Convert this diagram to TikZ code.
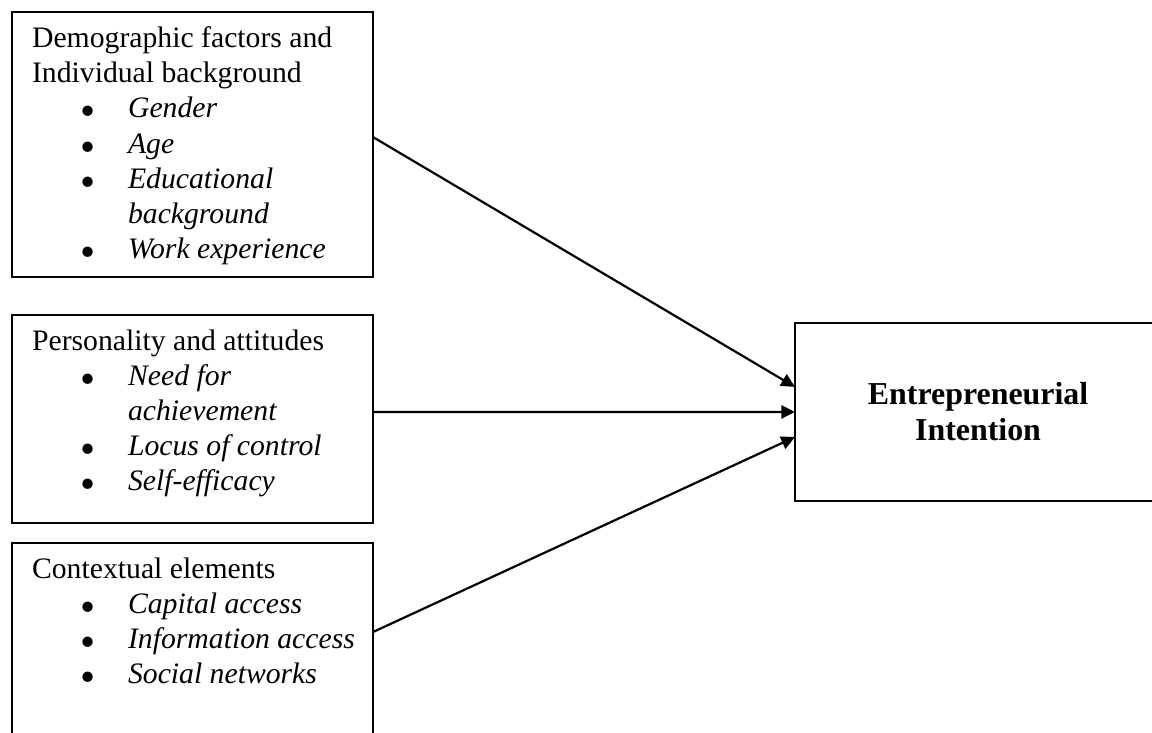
\documentclass[tikz,border=0pt]{standalone}
\usepackage{fontspec}
\setmainfont{Liberation Serif}
\usetikzlibrary{arrows.meta,calc}

\newcommand{\bitem}[1]{\hspace*{17.5pt}\makebox[17.4pt][l]{\raisebox{-2.9pt}[0pt][0pt]{\scalebox{1.45}{\textbullet}}}\mbox{\textit{#1}}}
\newcommand{\bcont}[1]{\hspace*{34.9pt}\mbox{\textit{#1}}}
\newcommand{\factortext}[2]{\parbox[c][#1][t]{116.7pt}{\raggedright #2}}

\begin{document}
\begin{tikzpicture}[
  x=0.3636pt, y=-0.3636pt,
  font=\fontsize{10.8}{12.8}\selectfont,
  factor/.style={
    draw,
    line width=0.8pt,
    anchor=north west,
    inner xsep=7.3pt,
    inner ysep=5.3pt,
    outer sep=0pt
  },
  outcome/.style={
    draw,
    line width=0.8pt,
    anchor=north west,
    align=center,
    font=\fontsize{11.6}{13.1}\selectfont\bfseries,
    minimum width=133.1pt,
    minimum height=64.7pt,
    outer sep=0pt
  },
  link/.style={-{Triangle[length=5pt, width=4.8pt]}, line width=0.8pt}
]
\useasboundingbox (0,0) rectangle (1152,733);
\clip (0,0) rectangle (1152,733);

% Factors
\node[factor] (demo) at (12,12) {\factortext{85.8pt}{%
  Demographic factors and\\
  Individual background\\
  \bitem{Gender}\\
  \bitem{Age}\\
  \bitem{Educational}\\
  \bcont{background}\\
  \bitem{Work experience}}};
\node[factor] (person) at (12,315) {\factortext{65pt}{%
  Personality and attitudes\\
  \bitem{Need for}\\
  \bcont{achievement}\\
  \bitem{Locus of control}\\
  \bitem{Self-efficacy}}};
\node[factor] (context) at (12,543) {\factortext{68.3pt}{%
  Contextual elements\\
  \bitem{Capital access}\\
  \bitem{Information access}\\
  \bitem{Social networks}}};

% Outcome
\node[outcome] (intent) at (795,323) {Entrepreneurial\\Intention};

\draw[link] ([yshift=2.7pt]demo.east) -- ([yshift=9.1pt]intent.west);
\draw[link] ([yshift=2.5pt]person.east) -- (intent.west);
\draw[link] ([yshift=7.1pt]context.east) -- ([yshift=-9.1pt]intent.west);

\end{tikzpicture}
\end{document}
